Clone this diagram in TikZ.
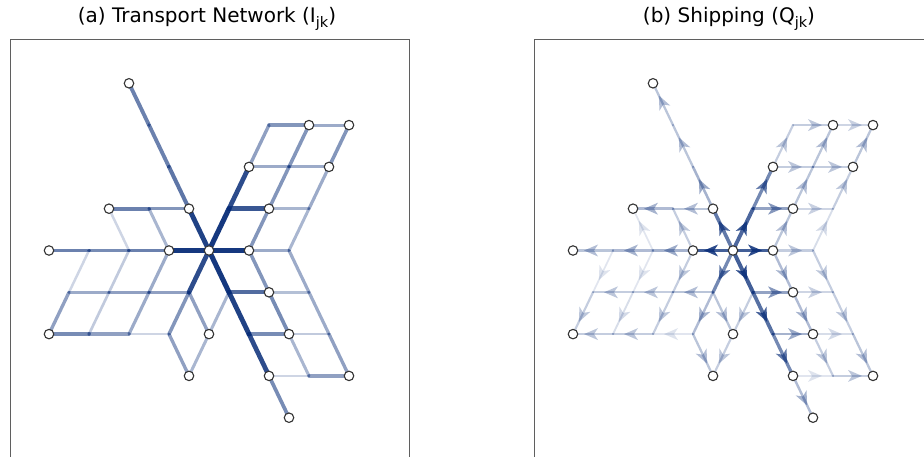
\documentclass[tikz,border=0pt]{standalone}
\usepackage{fontspec}
\setmainfont{DejaVu Sans}
\usetikzlibrary{arrows.meta,decorations.markings}

\definecolor{netblue}{RGB}{8,45,120}
\definecolor{boxgray}{RGB}{95,95,95}
\newcommand\lowsub[1]{\raisebox{-0.5ex}{\fontsize{14.5}{14.5}\selectfont #1}}

\begin{document}
\begin{tikzpicture}[x=1pt,y=-1pt,
  paneltitle/.style={font=\fontsize{20}{23}\selectfont, inner sep=0pt},
  panelbox/.style={draw=boxgray, line width=1pt},
  link/.style={draw=netblue, draw opacity=#1, line width={(1.8+3.4*#1)*1pt}, line cap=round},
  flow/.style={draw=netblue, draw opacity={0.8*#1}, line width={(1.3+2.8*#1)*1pt}, line cap=round,
    postaction={decorate, decoration={markings, mark=at position 0.6 with
      {\fill[netblue, fill opacity={0.9*#1}] (5pt,0pt) -- (-9pt,6pt) -- (-5pt,0pt) -- (-9pt,-6pt) -- cycle;}}}},
  city/.style={circle, draw=black!80, fill=white, line width=1.1pt, minimum size=9.5pt, inner sep=0pt},
]
\useasboundingbox (0,0) rectangle (924,457);
\clip (0,0) rectangle (924,457);

% --- panels and titles ---
\draw[panelbox] (10,40) rectangle (409,470);
\draw[panelbox] (534,40) rectangle (940,470);
\node[paneltitle] (titlea) at (207,19) {(a) Transport Network (I\lowsub{jk})};
\node[paneltitle] (titleb) at (729,19) {(b) Shipping (Q\lowsub{jk})};

% --- lattice points, one set per panel ---
\def\oxa{209}
\def\oxb{733}
\def\oy{250.5}
\foreach \i in {-5,...,5}
  \foreach \j in {-4,...,4} {
    \coordinate (a\i\j) at ({\oxa+40*\i+20*\j},{\oy-41.8*\j});
    \coordinate (b\i\j) at ({\oxb+40*\i+20*\j},{\oy-41.8*\j});
  }

% --- edges: from/to, network intensity, shipping intensity ---
\foreach \i/\j/\k/\l/\w/\q in {
  % upper right block
  0/3/1/3/.5/.3, 1/3/2/3/.4/.25,
  0/2/1/2/.4/.3, 1/2/2/2/.4/.3,
  0/1/1/1/.8/.55, 1/1/2/1/.35/.25,
  0/0/1/0/.95/.95, 1/0/2/0/.4/.3,
  0/0/0/1/.95/.9, 0/1/0/2/.85/.7, 0/2/0/3/.45/.3,
  1/0/1/1/.5/.35, 1/1/1/2/.5/.35, 1/2/1/3/.5/.35,
  2/0/2/1/.35/.2, 2/1/2/2/.4/.3, 2/2/2/3/.5/.35,
  % left block
  -1/1/-2/1/.5/.35, -2/1/-3/1/.6/.4,
  0/0/-1/0/.95/.95, -1/0/-2/0/.6/.45, -2/0/-3/0/.55/.4, -3/0/-4/0/.6/.35,
  0/-1/-1/-1/.45/.35, -1/-1/-2/-1/.45/.3, -2/-1/-3/-1/.4/.3,
  0/-2/-1/-2/.2/.15, -1/-2/-2/-2/.45/.3, -2/-2/-3/-2/.55/.3,
  -2/0/-3/1/.2/.15, -1/0/-2/1/.35/.3,
  -3/0/-3/-1/.2/.15, -3/-1/-3/-2/.45/.3,
  -2/0/-2/-1/.25/.15, -2/-1/-2/-2/.25/.2,
  -1/0/-1/-1/.4/.3, -1/-1/-1/-2/.4/.3,
  % long diagonal
  0/0/-1/1/.9/.8, -1/1/-2/2/.65/.45, -2/2/-3/3/.6/.35, -3/3/-4/4/.6/.35,
  0/0/1/-1/.95/.95, 1/-1/2/-2/.9/.85, 2/-2/3/-3/.85/.7, 3/-3/4/-4/.55/.4,
  % lower block
  0/0/0/-1/.85/.7, 0/-1/0/-2/.5/.4, 0/-1/1/-2/.45/.35, 1/-1/1/-2/.35/.3,
  0/-2/1/-3/.45/.35, 1/-2/1/-3/.35/.3,
  1/-1/2/-1/.7/.55, 2/-1/3/-1/.3/.25,
  2/-2/3/-2/.55/.45, 3/-2/4/-2/.25/.2,
  3/-3/4/-3/.2/.15, 4/-3/5/-3/.45/.3,
  1/0/2/-1/.5/.4, 2/-1/3/-2/.55/.4, 3/-2/4/-3/.35/.3,
  2/0/3/-1/.4/.3, 3/-1/4/-2/.4/.3, 4/-2/5/-3/.45/.35
}{
  \draw[link=\w] (a\i\j) -- (a\k\l);
  \draw[flow=\q] (b\i\j) -- (b\k\l);
}

% --- cities ---
\foreach \i/\j in {-4/4, 1/3, 2/3, 0/2, 2/2, -3/1, -1/1, 1/1, -4/0, -1/0, 0/0, 1/0,
                   2/-1, -3/-2, 1/-2, 3/-2, 1/-3, 3/-3, 5/-3, 4/-4} {
  \node[city] (ca\i\j) at (a\i\j) {};
  \node[city] (cb\i\j) at (b\i\j) {};
}

\end{tikzpicture}
\end{document}
